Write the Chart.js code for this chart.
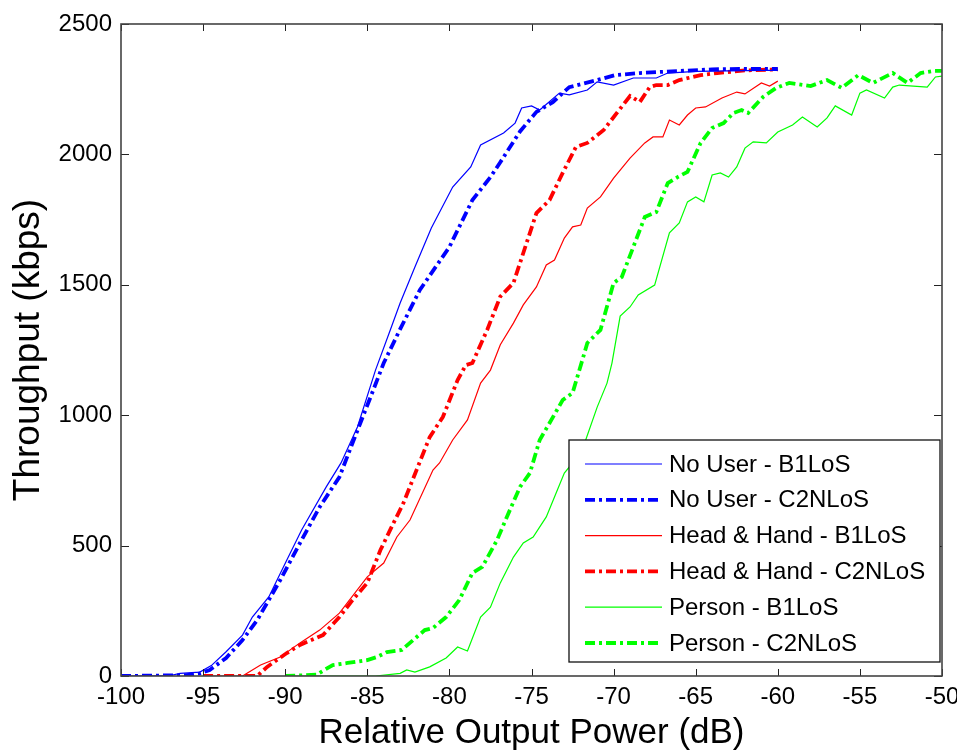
<!DOCTYPE html>
<html lang="en">
  <head>
    <meta charset="UTF-8" />
    <script src="https://cdn.jsdelivr.net/npm/chart.js@4.4.1/dist/chart.umd.min.js"></script>
    <title>Throughput vs Relative Output Power</title>
    <style>
      html,
      body {
        margin: 0;
        padding: 0;
        background-color: #fff;
      }

      canvas {
        display: block;
      }
    </style>
  </head>
  <body>
    <canvas id="myChart" width="957" height="751"></canvas>
    <script>
      // measured throughput curves, x = relative output power (dB), y = kbps
      const noUserB1X = [-100, -97, -96.4, -95.2, -94.5, -93.6, -92.6, -92.0, -91.0, -89.9, -89.0, -87.5, -86.6, -85.6, -84.5, -83.6, -83.0, -82.1, -81.1, -79.8, -78.7, -78.1, -76.7, -76.0, -75.6, -75.0, -74.5, -73.3, -72.7, -71.6, -71.0, -70.0, -68.8, -67.4, -66.7, -65, -63, -61, -60];
      const noUserB1Y = [0, 2, 10, 15, 40, 93, 157, 226, 303, 445, 560, 725, 817, 955, 1173, 1327, 1430, 1568, 1718, 1875, 1952, 2036, 2082, 2120, 2178, 2186, 2170, 2235, 2228, 2247, 2278, 2266, 2293, 2293, 2312, 2318, 2320, 2322, 2322];

      const noUserC2X = [-100, -96, -95.2, -94.6, -93.6, -92.6, -91.7, -90.3, -89.1, -87.9, -86.7, -85.9, -84.8, -84.0, -83.0, -81.8, -80.0, -78.6, -77.5, -76.9, -75.7, -74.7, -73.7, -72.7, -71.0, -69.9, -68.4, -66, -64, -62, -60];
      const noUserC2Y = [0, 3, 10, 23, 69, 138, 215, 368, 510, 648, 763, 893, 1070, 1200, 1330, 1480, 1645, 1825, 1913, 1970, 2088, 2163, 2200, 2258, 2285, 2304, 2312, 2320, 2326, 2328, 2328];

      const headHandB1X = [-95, -92.6, -91.5, -90.3, -89.1, -87.9, -86.7, -85.0, -84.0, -83.2, -82.4, -81.0, -80.6, -79.8, -78.9, -78.1, -77.5, -76.9, -76.1, -75.5, -74.7, -74.1, -73.6, -73.0, -72.5, -72.0, -71.6, -70.8, -70.0, -69.0, -68.1, -67.6, -67.0, -66.6, -66.0, -65.5, -65.0, -64.4, -63.4, -62.5, -62.0, -61.0, -60.5, -60.0];
      const headHandB1Y = [0, 0, 42, 73, 127, 176, 241, 380, 433, 533, 598, 790, 817, 905, 982, 1123, 1173, 1270, 1353, 1423, 1492, 1576, 1595, 1679, 1722, 1729, 1794, 1837, 1909, 1986, 2044, 2067, 2067, 2132, 2113, 2151, 2178, 2182, 2216, 2239, 2232, 2274, 2262, 2281];

      const headHandC2X = [-95, -91.7, -91.1, -89.9, -89.1, -87.7, -86.7, -85.9, -85.0, -84.2, -83.4, -82.8, -82.0, -81.2, -80.4, -79.5, -79.0, -78.6, -77.7, -76.9, -76.1, -75.5, -74.7, -73.9, -73.1, -72.3, -71.6, -70.6, -69.8, -69.0, -68.4, -67.8, -67.4, -66.7, -66.0, -64.7, -63.7, -62, -60];
      const headHandC2Y = [0, 0, 35, 88, 119, 157, 226, 291, 357, 483, 587, 663, 790, 916, 993, 1135, 1192, 1200, 1327, 1455, 1507, 1622, 1775, 1825, 1929, 2028, 2044, 2094, 2159, 2224, 2201, 2258, 2266, 2266, 2285, 2304, 2312, 2322, 2326];

      const personB1X = [-90, -84.5, -83.0, -82.6, -82.1, -81.2, -80.2, -79.5, -78.9, -78.1, -77.5, -76.9, -76.1, -75.5, -74.9, -74.1, -73.5, -73.0, -72.2, -71.7, -71.0, -70.4, -70.1, -69.6, -69.0, -68.5, -67.5, -66.6, -66.0, -65.5, -65.0, -64.5, -64.0, -63.5, -63.0, -62.5, -62.0, -61.5, -60.7, -60.0, -59.1, -58.5, -57.6, -57.0, -56.5, -55.5, -55.0, -54.6, -53.5, -53.0, -52.6, -50.9, -50.4, -50];
      const personB1Y = [0, 0, 10, 23, 15, 35, 69, 111, 96, 226, 264, 357, 456, 510, 533, 610, 702, 778, 840, 905, 1031, 1123, 1200, 1380, 1415, 1461, 1499, 1699, 1737, 1818, 1837, 1818, 1921, 1929, 1913, 1952, 2024, 2048, 2044, 2086, 2113, 2143, 2105, 2140, 2186, 2151, 2235, 2247, 2216, 2258, 2266, 2258, 2297, 2300];

      const personC2X = [-90, -88.1, -87.1, -86.2, -85.0, -84.4, -83.8, -82.9, -82.2, -81.5, -81.0, -80.2, -79.4, -78.6, -78.0, -77.1, -76.5, -75.7, -75.1, -74.5, -73.9, -73.1, -72.5, -71.9, -71.6, -70.8, -70.0, -69.5, -68.8, -68.1, -67.4, -66.7, -66.1, -65.5, -64.7, -64.0, -63.3, -62.7, -62.2, -61.8, -60.9, -60.1, -59.3, -58.0, -57.0, -56.1, -55.1, -54.2, -53.0, -52.1, -51.3, -50.5, -50];
      const personC2Y = [0, 5, 42, 50, 61, 73, 92, 100, 138, 176, 184, 226, 291, 395, 418, 521, 610, 725, 778, 905, 970, 1058, 1085, 1212, 1277, 1327, 1507, 1530, 1645, 1760, 1779, 1890, 1913, 1933, 2044, 2101, 2120, 2159, 2170, 2159, 2220, 2255, 2274, 2262, 2285, 2255, 2304, 2274, 2312, 2274, 2312, 2320, 2320];

      const xTicks = [-100, -95, -90, -85, -80, -75, -70, -65, -60, -55, -50];
      const yTicks = [0, 500, 1000, 1500, 2000, 2500];

      const FONT = "'Liberation Sans', Arial, sans-serif";
      const DASHDOT = [10, 4, 3, 4];

      function pts(xs, ys) {
        return xs.map((x, i) => ({ x: x, y: ys[i] }));
      }

      function series(label, xs, ys, color, dashed) {
        return {
          label: label,
          data: pts(xs, ys),
          borderColor: color,
          backgroundColor: color,
          borderWidth: dashed ? 3.8 : 1.2,
          borderDash: dashed ? DASHDOT : [],
          pointRadius: 0,
          tension: 0,
          fill: false,
        };
      }

      // MATLAB style box: frame on all sides, inward ticks, legend inside bottom right
      const matlabBox = {
        id: "matlabBox",
        afterDraw(chart) {
          const ctx = chart.ctx;
          const a = chart.chartArea;
          const xs = chart.scales.x;
          const ys = chart.scales.y;
          ctx.save();
          ctx.strokeStyle = "#222";
          ctx.lineWidth = 1;
          ctx.beginPath();
          xTicks.forEach(v => {
            const px = Math.round(xs.getPixelForValue(v)) + 0.5;
            ctx.moveTo(px, a.bottom); ctx.lineTo(px, a.bottom - 7);
            ctx.moveTo(px, a.top); ctx.lineTo(px, a.top + 7);
          });
          yTicks.forEach(v => {
            const py = Math.round(ys.getPixelForValue(v)) + 0.5;
            ctx.moveTo(a.left, py); ctx.lineTo(a.left + 8, py);
            ctx.moveTo(a.right, py); ctx.lineTo(a.right - 8, py);
          });
          ctx.stroke();
          ctx.strokeStyle = "#444";
          ctx.lineWidth = 1.6;
          ctx.strokeRect(a.left, a.top, a.right - a.left, a.bottom - a.top);

          // legend
          const w = 371, h = 222;
          const lx = a.right - 2 - w;
          const ly = a.bottom - 14 - h;
          ctx.fillStyle = "#fff";
          ctx.fillRect(lx, ly, w, h);
          ctx.strokeStyle = "#111";
          ctx.lineWidth = 1.3;
          ctx.strokeRect(lx, ly, w, h);
          ctx.font = "24px " + FONT;
          ctx.textBaseline = "middle";
          ctx.fillStyle = "#000";
          chart.data.datasets.forEach((ds, i) => {
            const cy = ly + 24 + i * 35.8;
            ctx.save();
            ctx.strokeStyle = ds.borderColor;
            ctx.lineWidth = ds.borderWidth;
            ctx.setLineDash(ds.borderDash);
            ctx.beginPath();
            ctx.moveTo(lx + 16, cy);
            ctx.lineTo(lx + 93, cy);
            ctx.stroke();
            ctx.restore();
            ctx.fillText(ds.label, lx + 100, cy + 1);
          });
          ctx.restore();
        },
      };

      const ctx = document.getElementById("myChart").getContext("2d");
      const myChart = new Chart(ctx, {
        type: "line",
        data: {
          datasets: [
            series("No User - B1LoS", noUserB1X, noUserB1Y, "#0000ff", false),
            series("No User - C2NLoS", noUserC2X, noUserC2Y, "#0000ff", true),
            series("Head & Hand - B1LoS", headHandB1X, headHandB1Y, "#ff0000", false),
            series("Head & Hand - C2NLoS", headHandC2X, headHandC2Y, "#ff0000", true),
            series("Person - B1LoS", personB1X, personB1Y, "#00ff00", false),
            series("Person - C2NLoS", personC2X, personC2Y, "#00ff00", true),
          ],
        },
        options: {
          responsive: false,
          animation: false,
          layout: { padding: { top: 24, right: 15, left: 0, bottom: 0 } },
          plugins: {
            legend: { display: false },
            tooltip: { enabled: false },
          },
          scales: {
            x: {
              type: "linear",
              min: -100,
              max: -50,
              grid: { display: false, drawTicks: false },
              border: { display: false },
              afterBuildTicks: s => { s.ticks = xTicks.map(v => ({ value: v })); },
              afterFit: s => { s.height = 75; s.paddingLeft = 0; s.paddingRight = 0; },
              ticks: {
                color: "#000",
                padding: 7,
                maxRotation: 0,
                autoSkip: false,
                callback: v => String(v),
                font: { family: FONT, size: 24 },
              },
              title: {
                display: true,
                text: "Relative Output Power (dB)",
                color: "#000",
                padding: { top: 0, bottom: 0 },
                font: { family: FONT, size: 35, lineHeight: 1 },
              },
            },
            y: {
              min: 0,
              max: 2500,
              grid: { display: false, drawTicks: false },
              border: { display: false },
              afterBuildTicks: s => { s.ticks = yTicks.map(v => ({ value: v })); },
              afterFit: s => { s.width = 121; s.paddingTop = 0; s.paddingBottom = 0; },
              ticks: {
                color: "#000",
                padding: 9,
                callback: v => String(v),
                font: { family: FONT, size: 24 },
              },
              title: {
                display: true,
                text: "Throughput (kbps)",
                color: "#000",
                padding: { top: 10, bottom: 0 },
                font: { family: FONT, size: 37, lineHeight: 1 },
              },
            },
          },
        },
        plugins: [matlabBox],
      });
    </script>
  </body>
</html>
